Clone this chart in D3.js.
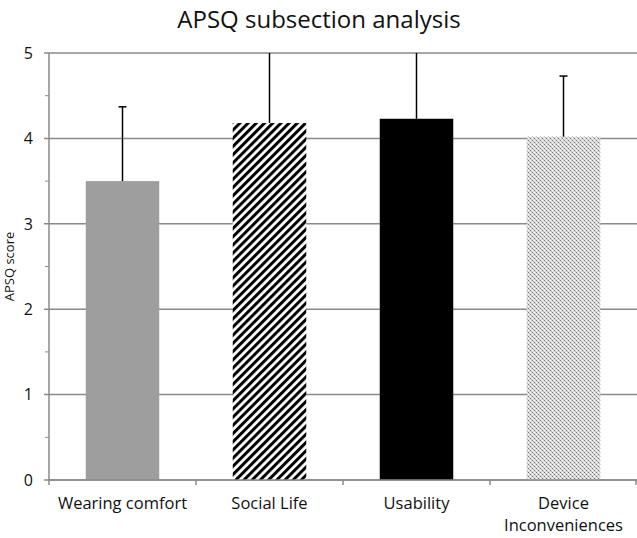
<!DOCTYPE html>
<html><head><meta charset="utf-8">
<script src="https://cdn.jsdelivr.net/npm/d3@7"></script>
<style>body{margin:0;background:#fff}svg{display:block}text{font-family:"Open Sans","Noto Sans",sans-serif;fill:#111}</style>
</head><body><svg id="c" width="637" height="538"></svg>
<script>
const categories = ["Wearing comfort","Social Life","Usability","Device Inconveniences"];
const labelLines = [["Wearing comfort"],["Social Life"],["Usability"],["Device","Inconveniences"]];
const means = [3.50, 4.18, 4.23, 4.02];
const errors = [0.87, 1.05, 1.10, 0.71];
const yTicks = [0,1,2,3,4,5];
const fills = ["#9e9e9e","url(#stripes)","#000000","url(#dots)"];

const svg = d3.select("#c");
const m = {left:49, right:0, top:53, bottom:58};
const W = 637, H = 538;
const x = d3.scaleBand().domain(categories).range([m.left, W - m.right]).paddingInner(0.5).paddingOuter(0.25);
const y = d3.scaleLinear().domain([0,5]).range([H - m.bottom, m.top]);

const defs = svg.append("defs");
const sp = defs.append("pattern").attr("id","stripes").attr("patternUnits","userSpaceOnUse")
  .attr("width",5.8).attr("height",5.8).attr("patternTransform","rotate(45)");
sp.append("rect").attr("width",5.8).attr("height",5.8).attr("fill","#fff");
sp.append("rect").attr("width",3).attr("height",5.8).attr("fill","#000");
const dp = defs.append("pattern").attr("id","dots").attr("patternUnits","userSpaceOnUse").attr("width",4).attr("height",4);
dp.append("rect").attr("width",4).attr("height",4).attr("fill","#dcdcdc");
dp.append("rect").attr("x",0).attr("y",0).attr("width",1).attr("height",1).attr("fill","#777");
dp.append("rect").attr("x",2).attr("y",2).attr("width",1).attr("height",1).attr("fill","#777");
dp.append("rect").attr("x",2).attr("y",0).attr("width",1).attr("height",1).attr("fill","#f6f6f6");
dp.append("rect").attr("x",0).attr("y",2).attr("width",1).attr("height",1).attr("fill","#f6f6f6");
dp.append("rect").attr("x",1).attr("y",1).attr("width",1).attr("height",1).attr("fill","#bbb");
dp.append("rect").attr("x",3).attr("y",3).attr("width",1).attr("height",1).attr("fill","#bbb");

// gridlines
svg.append("g").selectAll("line").data(yTicks).join("line")
  .attr("x1",m.left-5).attr("x2",W).attr("y1",d=>y(d)).attr("y2",d=>y(d))
  .attr("stroke","#8a8a8a").attr("stroke-width",1.5);
// minor ticks
svg.append("g").selectAll("line").data(d3.range(0.5,5,1)).join("line")
  .attr("x1",m.left-4).attr("x2",m.left).attr("y1",d=>y(d)).attr("y2",d=>y(d))
  .attr("stroke","#8a8a8a").attr("stroke-width",1);
// y axis line
svg.append("line").attr("x1",m.left).attr("x2",m.left).attr("y1",y(5)).attr("y2",y(0))
  .attr("stroke","#8a8a8a").attr("stroke-width",1.5);
// y tick labels
svg.append("g").selectAll("text").data(yTicks).join("text")
  .attr("x",m.left-16).attr("y",d=>y(d)).attr("dy","0.36em").attr("text-anchor","end")
  .attr("font-size",16).text(d=>d);

// clip for error bars
defs.append("clipPath").attr("id","plotclip").append("rect")
  .attr("x",m.left).attr("y",y(5)).attr("width",W-m.left).attr("height",y(0)-y(5));

// bars
svg.append("g").selectAll("rect").data(categories).join("rect")
  .attr("x",d=>x(d)).attr("width",x.bandwidth())
  .attr("y",(d,i)=>y(means[i])).attr("height",(d,i)=>y(0)-y(means[i]))
  .attr("fill",(d,i)=>fills[i]);

// error bars
const eg = svg.append("g").attr("clip-path","url(#plotclip)");
categories.forEach((c,i)=>{
  const cx = x(c) + x.bandwidth()/2;
  eg.append("line").attr("x1",cx).attr("x2",cx).attr("y1",y(means[i])).attr("y2",y(means[i]+errors[i]))
    .attr("stroke","#000").attr("stroke-width",1.5);
  eg.append("line").attr("x1",cx-4).attr("x2",cx+4).attr("y1",y(means[i]+errors[i])).attr("y2",y(means[i]+errors[i]))
    .attr("stroke","#000").attr("stroke-width",1.5);
});

// x axis line
svg.append("line").attr("x1",m.left).attr("x2",W).attr("y1",y(0)).attr("y2",y(0))
  .attr("stroke","#8a8a8a").attr("stroke-width",1.5);
// category ticks
const step = x.step();
const bounds = d3.range(categories.length+1).map(i=>m.left + i*step);
svg.append("g").selectAll("line").data(bounds).join("line")
  .attr("x1",d=>Math.min(d,W-1)).attr("x2",d=>Math.min(d,W-1)).attr("y1",y(0)).attr("y2",y(0)+5)
  .attr("stroke","#8a8a8a").attr("stroke-width",1.5);
// category labels
const lg = svg.append("g");
categories.forEach((c,i)=>{
  const t = lg.append("text").attr("x",x(c)+x.bandwidth()/2).attr("y",y(0)+29)
    .attr("text-anchor","middle").attr("font-size",16.5);
  labelLines[i].forEach((l,j)=>t.append("tspan").attr("x",x(c)+x.bandwidth()/2).attr("dy",j?22:0).text(l));
});

// y label
svg.append("text").attr("transform",`translate(14,${(y(0)+y(5))/2}) rotate(-90)`)
  .attr("text-anchor","middle").attr("font-size",13).text("APSQ score");
// title
svg.append("text").attr("x",319).attr("y",28).attr("text-anchor","middle").attr("font-size",24).text("APSQ subsection analysis");
</script></body></html>
